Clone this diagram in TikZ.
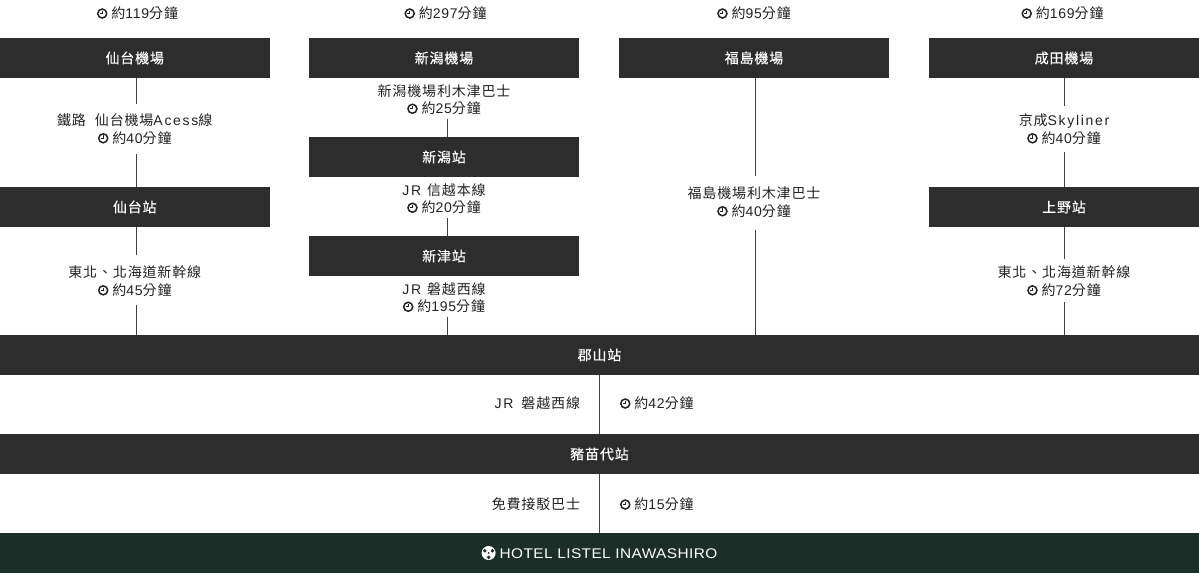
\documentclass[tikz,border=0pt]{standalone}
\usepackage{fontspec}
\usepackage{xcolor}
\usetikzlibrary{positioning}
\setmainfont{Noto Sans CJK TC}[LetterSpace=6]
\newfontfamily\stnfont{Noto Sans CJK TC}[LetterSpace=6,FakeBold=0.3]
\newfontfamily\latn{Liberation Sans}[LetterSpace=5]
\newfontfamily\latw{Liberation Sans}[LetterSpace=12]
\newfontfamily\logofont{Liberation Sans}[FakeStretch=1.1,LetterSpace=3]
\definecolor{boxgray}{HTML}{2D2D2D}
\definecolor{hotelgreen}{HTML}{1B2E28}
\definecolor{inkgray}{HTML}{222222}
\newcommand{\clockicon}{\tikz[baseline=-4.8pt,x=1pt,y=1pt]{\draw[line width=1.5pt,inkgray] (0,0) circle (4.5pt);\draw[line width=1pt,inkgray] (0,2.8) -- (0,0) -- (-2.4,0);}}
\newcommand{\mins}[1]{\clockicon\ 約{\latn #1}分鐘}
\newcommand{\hotelicon}{\tikz[baseline=-5pt,x=1pt,y=1pt]{\fill[white] (0,0) circle (7pt);\foreach \a in {30,150,270}{\fill[hotelgreen] (\a:4.4) circle (1.9pt);}\fill[hotelgreen] (0,0) circle (1pt);}}

\begin{document}
\begin{tikzpicture}[
  x=1pt, y=-1pt,
  every node/.style={outer sep=0pt},
  stn/.style={fill=boxgray, text=white, minimum width=270pt, minimum height=40pt, inner sep=0pt, font=\fontsize{14}{17}\stnfont},
  wide/.style={stn, minimum width=1199pt},
  via/.style={align=center, inner xsep=0pt, inner ysep=-3pt, minimum height=35pt, text=inkgray, font=\fontsize{14}{17.5}\selectfont},
  side/.style={inner sep=0pt, text=inkgray, font=\fontsize{14}{17}\selectfont},
  link/.style={draw=black!75, line width=0.8pt}
]
\useasboundingbox (0,0) rectangle (1199,573);
\coordinate (lineA) at (136.5,0);
\coordinate (lineB) at (447,0);
\coordinate (lineC) at (755.5,0);
\coordinate (lineD) at (1064.5,0);
\coordinate (lineE) at (599.5,0);

% airport row
\node[side] (sendaitime) at (137.5,13) {\mins{119}};
\node[side] (niigatatime) at (445.5,13) {\mins{297}};
\node[side] (fukushimatime) at (754,13) {\mins{95}};
\node[side] (naritatime) at (1062.5,13) {\mins{169}};
\node[stn] (sendaiap) at (134.75,58) {仙台機場};
\node[stn] (niigataap) at (444,58) {新潟機場};
\node[stn] (fukushimaap) at (754,58) {福島機場};
\node[stn] (naritaap) at (1064,58) {成田機場};

% sendai
\node[via, below=33.5pt of sendaiap] (sendairail) {鐵路\hspace{5pt} 仙台機場{\latw Acess}線\\\mins{40}};
\node[stn, below=40.5pt of sendairail] (sendaistn) {仙台站};
\node[via, below=36.5pt of sendaistn] (sendaijr) {東北、北海道新幹線\\\mins{45}};
% niigata
\node[via, below=4pt of niigataap] (niigatabus) {新潟機場利木津巴士\\\mins{25}};
\node[stn, below=20pt of niigatabus] (niigatastn) {新潟站};
\node[via, below=4pt of niigatastn] (shinetsu) {{\latw JR}\hspace{2pt} 信越本線\\\mins{20}};
\node[stn, below=20pt of shinetsu] (niitsustn) {新津站};
\node[via, below=4pt of niitsustn] (banetsuw) {{\latw JR}\hspace{2pt} 磐越西線\\\mins{195}};
% fukushima
\node[via, below=106.5pt of fukushimaap] (fukushimabus) {福島機場利木津巴士\\\mins{40}};
% narita
\node[via, below=33.5pt of naritaap] (skyliner) {京成{\latw Skyliner}\\\mins{40}};
\node[stn, below=40.5pt of skyliner] (uenostn) {上野站};
\node[via, below=36.5pt of uenostn] (tohoku) {東北、北海道新幹線\\\mins{72}};

% common trunk
\node[wide] (koriyama) at (599.5,355) {郡山站};
\node[wide, below=59pt of koriyama] (inawashiro) {豬苗代站};
\node[wide, below=59pt of inawashiro, fill=hotelgreen] (hotel) {\hotelicon\ {\logofont HOTEL LISTEL INAWASHIRO}};
\node[side, anchor=east] (banetsuname) at (580,403) {{\latw JR}\hspace{4pt} 磐越西線};
\node[side, anchor=west] (banetsutime) at (620,403) {\mins{42}};
\node[side, anchor=east] (shuttlename) at (580,504) {免費接駁巴士};
\node[side, anchor=west] (shuttletime) at (620,504) {\mins{15}};

% connectors
\draw[link] (sendaiap.south -| lineA) -- ([yshift=7.5pt]sendairail.north -| lineA);
\draw[link] ([yshift=-7.5pt]sendairail.south -| lineA) -- (sendaistn.north -| lineA);
\draw[link] (sendaistn.south -| lineA) -- ([yshift=8.5pt]sendaijr.north -| lineA);
\draw[link] ([yshift=-6.5pt]sendaijr.south -| lineA) -- (koriyama.north -| lineA);
\draw[link] ([yshift=-2pt]niigatabus.south -| lineB) -- (niigatastn.north -| lineB);
\draw[link] ([yshift=-2pt]shinetsu.south -| lineB) -- (niitsustn.north -| lineB);
\draw[link] ([yshift=-2pt]banetsuw.south -| lineB) -- (koriyama.north -| lineB);
\draw[link] (fukushimaap.south -| lineC) -- ([yshift=8.5pt]fukushimabus.north -| lineC);
\draw[link] ([yshift=-10.5pt]fukushimabus.south -| lineC) -- (koriyama.north -| lineC);
\draw[link] (naritaap.south -| lineD) -- ([yshift=5.5pt]skyliner.north -| lineD);
\draw[link] ([yshift=-5.5pt]skyliner.south -| lineD) -- (uenostn.north -| lineD);
\draw[link] (uenostn.south -| lineD) -- ([yshift=4.5pt]tohoku.north -| lineD);
\draw[link] ([yshift=-3.5pt]tohoku.south -| lineD) -- (koriyama.north -| lineD);
\draw[link] (koriyama.south -| lineE) -- (inawashiro.north -| lineE);
\draw[link] (inawashiro.south -| lineE) -- (hotel.north -| lineE);
\end{tikzpicture}
\end{document}
